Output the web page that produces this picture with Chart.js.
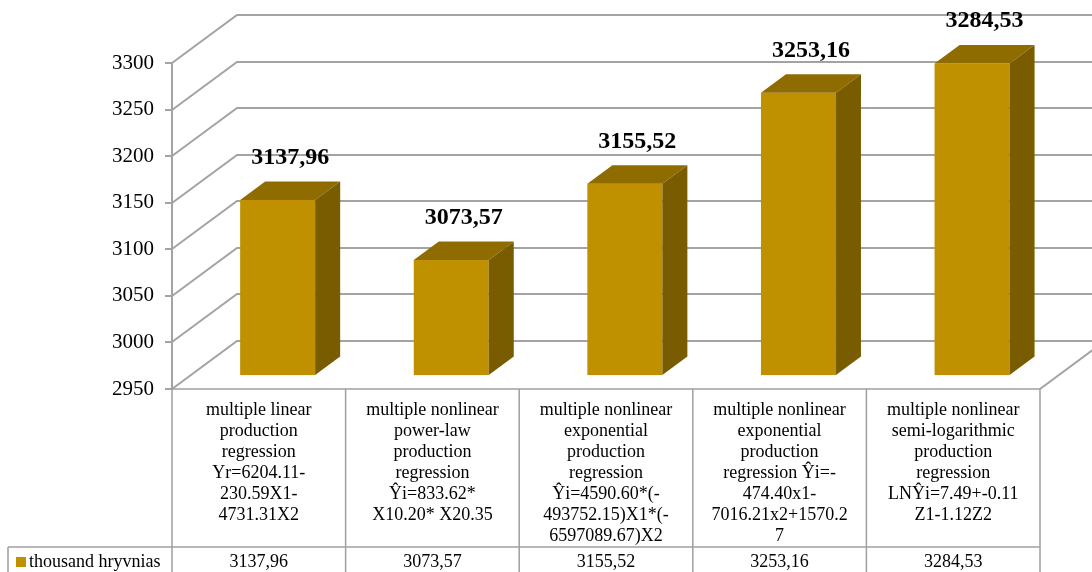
<!DOCTYPE html>
<html>
<head>
<meta charset="utf-8">
<script src="https://cdn.jsdelivr.net/npm/chart.js@4.4.0/dist/chart.umd.min.js"></script>
<style>
  html, body { margin: 0; padding: 0; background: #ffffff; }
  #wrap { width: 1092px; height: 572px; position: relative; }
</style>
</head>
<body>
<div id="wrap"><canvas id="chart" width="1092" height="572"></canvas></div>
<script>
// Regression models (category labels, already broken into lines)
const categories = [
  ['multiple linear', 'production', 'regression', 'Yr=6204.11-', '230.59X1-', '4731.31X2'],
  ['multiple nonlinear', 'power-law', 'production', 'regression', 'Ŷi=833.62*', 'X10.20* X20.35'],
  ['multiple nonlinear', 'exponential', 'production', 'regression', 'Ŷi=4590.60*(-', '493752.15)X1*(-', '6597089.67)X2'],
  ['multiple nonlinear', 'exponential', 'production', 'regression Ŷi=-', '474.40x1-', '7016.21x2+1570.2', '7'],
  ['multiple nonlinear', 'semi-logarithmic', 'production', 'regression', 'LNŶi=7.49+-0.11', 'Z1-1.12Z2']
];
const seriesName = 'thousand hryvnias';
const seriesValues = [3137.96, 3073.57, 3155.52, 3253.16, 3284.53];
const yTickValues = [2950, 3000, 3050, 3100, 3150, 3200, 3250, 3300];

// Look of the oblique 3D box
const DEPTH_DX = 65, DEPTH_DY = 48;      // wall depth offset
const BAR_Z_FRONT = 0.29, BAR_Z_BACK = 0.675;
const GRID_COLOR = '#a3a3a3';
const TABLE_COLOR = '#a0a0a0';
const BAR_FRONT = '#bf9000', BAR_TOP = '#8f6c00', BAR_SIDE = '#7a5c00';
const SERIF = '"Liberation Serif", "Times New Roman", serif';

const fmt = v => v.toFixed(2).replace('.', ',');

const box3d = {
  id: 'box3d',
  beforeDatasetsDraw(chart) {
    const { ctx, chartArea: a, scales: { y } } = chart;
    ctx.save();
    ctx.strokeStyle = GRID_COLOR;
    ctx.lineWidth = 2;
    yTickValues.forEach(v => {
      const py = Math.round(y.getPixelForValue(v));
      ctx.beginPath();
      ctx.moveTo(a.left, py);
      ctx.lineTo(a.left + DEPTH_DX, py - DEPTH_DY);
      ctx.lineTo(a.right + DEPTH_DX, py - DEPTH_DY);
      ctx.stroke();
    });
    // right edge of the floor
    ctx.beginPath();
    ctx.moveTo(a.right, a.bottom);
    ctx.lineTo(a.right + DEPTH_DX, a.bottom - DEPTH_DY);
    ctx.stroke();
    ctx.restore();
  },
  afterDatasetsDraw(chart) {
    const { ctx, scales: { y } } = chart;
    const meta = chart.getDatasetMeta(0);
    const floor = y.getPixelForValue(y.min);
    ctx.save();
    const fdx = BAR_Z_FRONT * DEPTH_DX, fdy = BAR_Z_FRONT * DEPTH_DY;
    const ddx = (BAR_Z_BACK - BAR_Z_FRONT) * DEPTH_DX, ddy = (BAR_Z_BACK - BAR_Z_FRONT) * DEPTH_DY;
    meta.data.forEach((el, i) => {
      const x0 = el.x - el.width / 2 + fdx, x1 = el.x + el.width / 2 + fdx;
      const top = el.y - fdy, bot = floor - fdy;
      // front
      ctx.fillStyle = BAR_FRONT;
      ctx.fillRect(x0, top, x1 - x0, bot - top);
      // top
      ctx.fillStyle = BAR_TOP;
      ctx.beginPath();
      ctx.moveTo(x0, top); ctx.lineTo(x0 + ddx, top - ddy);
      ctx.lineTo(x1 + ddx, top - ddy); ctx.lineTo(x1, top);
      ctx.closePath(); ctx.fill();
      // side
      ctx.fillStyle = BAR_SIDE;
      ctx.beginPath();
      ctx.moveTo(x1, top); ctx.lineTo(x1 + ddx, top - ddy);
      ctx.lineTo(x1 + ddx, bot - ddy); ctx.lineTo(x1, bot);
      ctx.closePath(); ctx.fill();
      // value label above the bar
      ctx.fillStyle = '#000';
      ctx.font = 'bold 24px ' + SERIF;
      ctx.textAlign = 'center';
      ctx.textBaseline = 'middle';
      ctx.fillText(fmt(seriesValues[i]), x0 + (x1 - x0) / 2 + ddx / 2, top - ddy / 2 - 33);
    });
    ctx.restore();
  },
  afterDraw(chart) {
    // data table under the plot
    const { ctx, chartArea: a, scales: { x } } = chart;
    const n = categories.length;
    const colW = (a.right - a.left) / n;
    const H = chart.height;
    const rowTop = 547, legLeft = 8;
    ctx.save();
    ctx.strokeStyle = TABLE_COLOR;
    ctx.lineWidth = 1.5;
    ctx.beginPath();
    ctx.moveTo(a.left, a.bottom); ctx.lineTo(a.right, a.bottom);
    for (let k = 0; k <= n; k++) {
      const px = a.left + k * colW;
      ctx.moveTo(px, a.bottom); ctx.lineTo(px, H);
    }
    ctx.moveTo(legLeft, rowTop); ctx.lineTo(a.right, rowTop);
    ctx.moveTo(legLeft, rowTop); ctx.lineTo(legLeft, H);
    ctx.stroke();

    const rowMid = 562;
    ctx.fillStyle = BAR_FRONT;
    ctx.fillRect(16, rowMid - 5, 10, 10);
    ctx.fillStyle = '#000';
    ctx.font = '18px ' + SERIF;
    ctx.textBaseline = 'middle';
    ctx.textAlign = 'left';
    ctx.fillText(seriesName, 29, rowMid);
    ctx.textAlign = 'center';
    seriesValues.forEach((v, i) => ctx.fillText(fmt(v), x.getPixelForValue(i), rowMid));
    ctx.restore();
  }
};

new Chart(document.getElementById('chart'), {
  type: 'bar',
  data: {
    labels: categories,
    datasets: [{
      label: seriesName,
      data: seriesValues,
      backgroundColor: 'rgba(0,0,0,0)',
      borderWidth: 0,
      barPercentage: 0.432,
      categoryPercentage: 1.0
    }]
  },
  options: {
    responsive: false,
    animation: false,
    events: [],
    layout: { padding: { left: 0, top: 63, right: 52, bottom: 0 } },
    plugins: { legend: { display: false }, tooltip: { enabled: false } },
    scales: {
      x: {
        position: 'bottom',
        grid: { display: false, drawTicks: false },
        border: { display: false },
        ticks: {
          autoSkip: false, maxRotation: 0, minRotation: 0, padding: 10.5,
          color: '#000',
          font: { family: SERIF, size: 18, lineHeight: 21 / 18 }
        },
        afterFit(s) { s.height = 183; }
      },
      y: {
        min: 2950, max: 3300,
        afterBuildTicks(s) { s.ticks = yTickValues.map(v => ({ value: v })); },
        grid: { drawOnChartArea: false, drawTicks: true, tickLength: 7, color: GRID_COLOR, lineWidth: 2 },
        border: { display: true, color: GRID_COLOR, width: 2 },
        ticks: {
          padding: 11, color: '#000', font: { family: SERIF, size: 21 },
          callback: v => String(v)
        },
        afterFit(s) { s.width = 172; }
      }
    }
  },
  plugins: [box3d]
});
</script>
</body>
</html>
